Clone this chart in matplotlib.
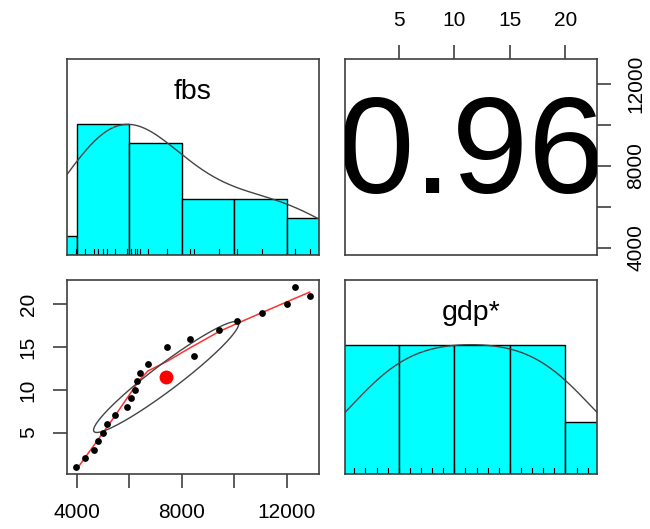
import numpy as np
import matplotlib
matplotlib.use("Agg")
import matplotlib.pyplot as plt

plt.rcParams['font.family'] = ['Liberation Sans', 'DejaVu Sans']

# values (fbs vs gdp rank)
fbs = np.array([3990, 4304, 4658, 4810, 5000, 5139, 5443, 5899, 6051, 6203, 6304,
                6405, 6709, 8456, 7456, 8329, 9418, 10102, 11052, 12000, 12862, 12318])
gdp = np.arange(1, 23)
var_names = ["fbs", "gdp*"]
r_label = "0.96"
fbs_breaks = np.arange(2000, 14001, 2000)
gdp_breaks = np.arange(0, 26, 5)
fbs_ticks = [4000, 6000, 8000, 10000, 12000]
fbs_ticklabels = ["4000", "", "8000", "", "12000"]
gdp_ticks = [5, 10, 15, 20]

hist_col = "#00FFFF"
frame_col = "#404040"
tick_fs = 15
label_fs = 20.5


def rlim(v):
    # R style 4% axis extension
    d = (v.max() - v.min()) * 0.04
    return v.min() - d, v.max() + d


def r_counts(x, breaks):
    # right closed bins like R's hist()
    idx = np.searchsorted(breaks, x, side='left') - 1
    idx[idx < 0] = 0
    return np.bincount(idx, minlength=len(breaks) - 1)


def r_density(x, adjust=1.2, n=512):
    q75, q25 = np.percentile(x, [75, 25])
    bw = 1.06 * min(np.std(x, ddof=1), (q75 - q25) / 1.34) * len(x) ** -0.2 * adjust
    gx = np.linspace(x.min() - 3 * bw, x.max() + 3 * bw, n)
    gy = np.exp(-0.5 * ((gx[:, None] - x[None, :]) / bw) ** 2).sum(axis=1)
    return gx, gy / gy.max()


def lowess(x, y, f=2 / 3, it=3):
    o = np.argsort(x)
    x = x[o].astype(float)
    y = y[o].astype(float)
    n = len(x)
    ns = max(min(int(f * n + 1e-7), n), 2)
    rw = np.ones(n)
    fit = np.zeros(n)
    for k in range(it + 1):
        for i in range(n):
            d = np.abs(x - x[i])
            h = np.sort(d)[ns - 1]
            u = np.clip(d / h, 0, 1)
            w = (1 - u ** 3) ** 3 * rw
            w[d > 0.999 * h] = 0
            w = w / w.sum()
            xm = (w * x).sum()
            c = (w * (x - xm) ** 2).sum()
            if np.sqrt(c) > 0.001 * (x[-1] - x[0]):
                b = (w * (x - xm) * y).sum() / c
                fit[i] = (w * y).sum() + b * (x[i] - xm)
            else:
                fit[i] = (w * y).sum()
        res = y - fit
        s = np.median(np.abs(res)) * 6
        u = np.clip(res / s, -1, 1)
        rw = (1 - u ** 2) ** 2
    return x, fit


def style(ax):
    for s in ax.spines.values():
        s.set_color(frame_col)
        s.set_linewidth(1.2)
    ax.tick_params(length=10, width=1.2, color=frame_col, labelsize=tick_fs,
                   pad=11, direction='out')
    ax.set_xticks([])
    ax.set_yticks([])


def hist_panel(ax, x, breaks, name):
    cnt = r_counts(x, breaks)
    h = cnt / cnt.max()
    ax.bar(breaks[:-1], h, width=np.diff(breaks), align='edge', color=hist_col,
           edgecolor='black', linewidth=1)
    gx, gy = r_density(x)
    ax.plot(gx, gy, color='#444444', lw=1)
    for v in x:
        ax.plot([v, v], [0, 0.045], color='black', lw=0.8)
    ax.set_xlim(*rlim(x))
    ax.set_ylim(0, 1.5)
    ax.text(0.5, 0.795, name, transform=ax.transAxes, ha='center', va='baseline',
            fontsize=label_fs)


fig = plt.figure(figsize=(6.5, 5.29), dpi=100)
W, H = 650, 529
lc, rc = 67 / W, 345 / W
cw = 252 / W
ax_tl = fig.add_axes([lc, 1 - 255 / H, cw, 196 / H])
ax_tr = fig.add_axes([rc, 1 - 255 / H, cw, 196 / H])
ax_bl = fig.add_axes([lc, 1 - 474 / H, cw, 194 / H])
ax_br = fig.add_axes([rc, 1 - 474 / H, cw, 194 / H])
for a in (ax_tl, ax_tr, ax_bl, ax_br):
    style(a)

hist_panel(ax_tl, fbs, fbs_breaks, var_names[0])
hist_panel(ax_br, gdp, gdp_breaks, var_names[1])

# scatter panel
sx, sy = lowess(fbs, gdp)
ax_bl.plot(sx, sy, color='#ff3030', lw=1.1, zorder=2)
ax_bl.scatter(fbs, gdp, s=24, color='black', zorder=3, linewidths=0)
xm, ym = fbs.mean(), gdp.mean()
xs, ys = fbs.std(ddof=1), gdp.std(ddof=1)
r = np.corrcoef(fbs, gdp)[0, 1]
ang = np.arange(52) * 2 * np.pi / 51
t = np.sign(r) / np.sqrt(2)
shape = np.diag([np.sqrt(1 + r), np.sqrt(1 - r)]) @ np.array([[t, t], [-t, t]])
ell = np.column_stack([np.cos(ang), np.sin(ang)]) @ shape
ax_bl.plot(ell[:, 0] * xs + xm, ell[:, 1] * ys + ym, color='#444444', lw=1, zorder=2)
ax_bl.scatter([xm], [ym], s=100, color='red', zorder=4, linewidths=0)
ax_bl.set_xlim(*rlim(fbs))
ax_bl.set_ylim(*rlim(gdp))
ax_bl.set_xticks(fbs_ticks)
ax_bl.set_xticklabels(fbs_ticklabels)
ax_bl.set_yticks(gdp_ticks)
ax_bl.set_yticklabels([str(v) for v in gdp_ticks], rotation=90, va='center')

# correlation panel
ax_tr.set_xlim(*rlim(gdp))
ax_tr.set_ylim(*rlim(fbs))
ax_tr.text(0.5, 0.5, r_label, transform=ax_tr.transAxes, ha='center', va='center',
           fontsize=99, clip_on=True)
ax_tr.xaxis.tick_top()
ax_tr.set_xticks(gdp_ticks)
ax_tr.set_xticklabels([str(v) for v in gdp_ticks])
ax_tr.yaxis.tick_right()
ax_tr.set_yticks(fbs_ticks)
ax_tr.set_yticklabels(fbs_ticklabels, rotation=90, va='center')

fig.savefig("out.png", dpi=100)
